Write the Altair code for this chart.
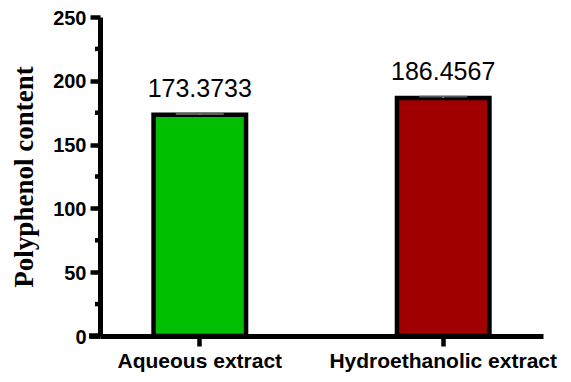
import altair as alt
import pandas as pd

categories = ["Aqueous extract", "Hydroethanolic extract"]
values = [173.3733, 186.4567]
errors = [0.6, 1.2]
value_labels = ["173.3733", "186.4567"]
colors = ["#00BF00", "#A00000"]
major_ticks = [0, 50, 100, 150, 200, 250]
minor_ticks = [25, 75, 125, 175, 225]

df = pd.DataFrame({
    "cat": categories,
    "val": values,
    "err": errors,
    "lab": value_labels,
})
df["hi"] = df["val"] + df["err"]
minor_df = pd.DataFrame({"m": minor_ticks})

yscale = alt.Scale(domain=[0, 250], nice=False)
xscale = alt.Scale(domain=categories, paddingInner=0.62, paddingOuter=0.22)
xaxis = alt.Axis(title=None, labelAngle=0, labelAlign="center",
                 labelBaseline="top", labelLimit=0,
                 labelFont="Liberation Sans",
                 labelFontWeight="bold", labelFontSize=21, labelColor="black",
                 labelPadding=4, tickSize=10, tickWidth=4.5, tickColor="black",
                 domainWidth=5, domainColor="black")
yaxis = alt.Axis(title="Polyphenol content", values=major_ticks,
                 tickSize=10, tickWidth=4.5, tickColor="black",
                 domainWidth=5, domainColor="black",
                 labelFont="Liberation Sans", labelFontWeight="bold",
                 labelFontSize=20, labelColor="black", labelPadding=4,
                 labelOffset=1,
                 titleFont="Liberation Serif", titleFontWeight="bold",
                 titleFontSize=27, titleColor="black", titlePadding=14,
                 grid=False)

def X():
    return alt.X("cat:N", scale=xscale, axis=xaxis)

bars = alt.Chart(df).mark_bar(stroke="black", strokeWidth=4.5).encode(
    x=X(),
    y=alt.Y("val:Q", scale=yscale, axis=yaxis),
    color=alt.Color("cat:N", scale=alt.Scale(domain=categories, range=colors), legend=None),
)

err_rule = alt.Chart(df).mark_rule(color="#808080", strokeWidth=2).encode(
    x=X(), y=alt.Y("val:Q", scale=yscale, axis=yaxis), y2="hi:Q")
err_cap = alt.Chart(df).mark_tick(color="#808080", thickness=2, size=48).encode(
    x=X(), y=alt.Y("hi:Q", scale=yscale, axis=yaxis))

text = alt.Chart(df).mark_text(dy=-12, baseline="bottom", font="Liberation Sans",
                               fontSize=25, color="black").encode(
    x=X(), y=alt.Y("hi:Q", scale=yscale, axis=yaxis), text="lab:N")

minor = alt.Chart(minor_df).mark_rule(color="black", strokeWidth=4.5).encode(
    x=alt.value(-5), x2=alt.value(0),
    y=alt.Y("m:Q", scale=yscale, axis=yaxis))

ext = alt.Chart(df).mark_rule(color="black", strokeWidth=5).encode(
    x=alt.value(-11), x2=alt.value(0), y=alt.value(319))

chart = alt.layer(bars, err_rule, err_cap, text, minor, ext).properties(
    width=443, height=319,
    autosize=alt.AutoSizeParams(type="none"),
    padding={"left": 92, "top": 9, "right": 20, "bottom": 38}
).configure_view(stroke=None)

chart.save("out.html", embed_options={"renderer": "svg", "actions": False})
